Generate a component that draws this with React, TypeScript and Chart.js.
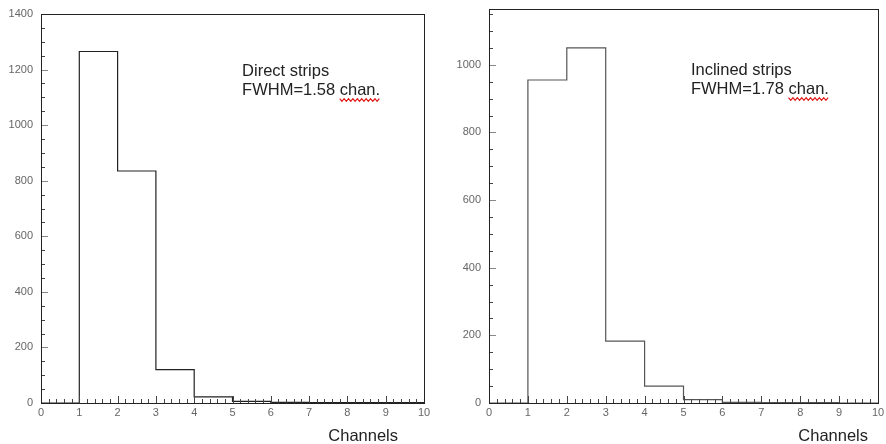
import React, { useEffect, useRef } from 'react';
import { Chart, registerables } from 'chart.js';

Chart.register(...registerables);

// ---- data ----
const binEdges = [0, 1, 2, 3, 4, 5, 6, 7, 8, 9, 10];
const directCounts = [0, 1265, 835, 120, 22, 6, 2, 1, 1, 1];
const inclinedCounts = [0, 955, 1050, 183, 50, 10, 2, 1, 1, 0];
const directYTicks = [0, 200, 400, 600, 800, 1000, 1200, 1400];
const inclinedYTicks = [0, 200, 400, 600, 800, 1000];
const xTickLabels = [0, 1, 2, 3, 4, 5, 6, 7, 8, 9, 10];
const directText = ['Direct strips', 'FWHM=1.58 chan.'];
const inclinedText = ['Inclined strips', 'FWHM=1.78 chan.'];
const axisTitle = 'Channels';
const directYMax = 1400;
const inclinedYMax = 1165;

const FONT = '"Liberation Sans", Arial, Helvetica, sans-serif';

const framePlugin = {
  id: 'frameTicks',
  afterDatasetsDraw(chart: any, _args: any, opts: any) {
    const { ctx, chartArea, scales } = chart;
    const { left, right, top, bottom } = chartArea;
    const xs = scales.x;
    const ys = scales.y;
    ctx.save();
    ctx.lineWidth = 1;
    ctx.strokeStyle = '#444';
    for (let i = 0; i <= 50; i++) {
      const v = i / 5;
      const px = Math.round(xs.getPixelForValue(v)) + 0.5;
      const len = i % 5 === 0 ? 7 : 4;
      ctx.beginPath();
      ctx.moveTo(px, bottom);
      ctx.lineTo(px, bottom - len);
      ctx.stroke();
    }
    for (let v = 0; v <= opts.yMax; v += 50) {
      const py = Math.round(ys.getPixelForValue(v)) + 0.5;
      const major = v % 200 === 0;
      ctx.strokeStyle = major ? '#888' : '#444';
      ctx.beginPath();
      ctx.moveTo(left, py);
      ctx.lineTo(left + (major ? 7 : 4), py);
      ctx.stroke();
    }
    ctx.strokeStyle = '#222';
    ctx.strokeRect(Math.round(left) + 0.5, Math.round(top) + 0.5, Math.round(right - left), Math.round(bottom - top));
    ctx.restore();
  },
  afterDraw(chart: any, _args: any, opts: any) {
    const { ctx, chartArea, scales } = chart;
    const xs = scales.x;
    ctx.save();
    ctx.font = `16.5px ${FONT}`;
    ctx.fillStyle = '#222';
    ctx.textAlign = 'left';
    ctx.textBaseline = 'middle';
    const tx = xs.getPixelForValue(opts.textX);
    const ty = chartArea.top + opts.textTop;
    const lines: string[] = opts.text;
    lines.forEach((t, i) => ctx.fillText(t, tx, ty + i * 19.5));
    const last = lines[lines.length - 1];
    const idx = last.indexOf('chan.');
    if (idx >= 0) {
      const sx = tx + ctx.measureText(last.slice(0, idx)).width;
      const sw = ctx.measureText('chan.').width;
      const sy = ty + (lines.length - 1) * 19.5 + 9.5;
      ctx.strokeStyle = '#e01818';
      ctx.lineWidth = 1.2;
      ctx.beginPath();
      let k = 0;
      for (let x = sx; x <= sx + sw + 0.1; x += 2.2, k++) {
        const y = sy + (k % 2 === 0 ? -1.3 : 1.3);
        if (k === 0) ctx.moveTo(x, y);
        else ctx.lineTo(x, y);
      }
      ctx.stroke();
    }
    ctx.font = `16.5px ${FONT}`;
    ctx.fillStyle = '#222';
    ctx.textAlign = 'right';
    ctx.textBaseline = 'middle';
    ctx.fillText(axisTitle, chartArea.right - opts.titleInset, chartArea.bottom + 33);
    ctx.restore();
  },
};

type PanelProps = {
  counts: number[];
  yMax: number;
  yTicks: number[];
  text: string[];
  width: number;
  yWidth: number;
  padTop: number;
  padRight: number;
  textX: number;
  textTop: number;
  titleInset: number;
  lineColor: string;
};

function Panel(p: PanelProps) {
  const ref = useRef<HTMLCanvasElement | null>(null);
  useEffect(() => {
    if (!ref.current) return;
    const points = binEdges.map((e, i) => ({ x: e, y: p.counts[Math.min(i, p.counts.length - 1)] }));
    const chart = new Chart(ref.current, {
      type: 'line',
      data: {
        datasets: [
          {
            data: points,
            stepped: 'before',
            borderColor: p.lineColor,
            borderWidth: 1.2,
            pointRadius: 0,
            fill: false,
          } as any,
        ],
      },
      options: {
        responsive: false,
        animation: false,
        events: [],
        layout: { padding: { top: p.padTop, right: p.padRight, left: 0, bottom: 0 } },
        plugins: {
          legend: { display: false },
          tooltip: { enabled: false },
          frameTicks: {
            yMax: p.yMax,
            text: p.text,
            textX: p.textX,
            textTop: p.textTop,
            titleInset: p.titleInset,
          },
        } as any,
        scales: {
          x: {
            type: 'linear',
            min: 0,
            max: 10,
            grid: { display: false, drawTicks: false },
            border: { display: false },
            afterBuildTicks: (s: any) => {
              s.ticks = xTickLabels.map((v) => ({ value: v }));
            },
            afterFit: (s: any) => {
              s.height = 41;
              s.paddingLeft = 0;
              s.paddingRight = 0;
            },
            ticks: {
              padding: 3,
              maxRotation: 0,
              autoSkip: false,
              color: '#666',
              font: { family: FONT, size: 11 },
              callback: (v: any) => String(v),
            },
          },
          y: {
            type: 'linear',
            min: 0,
            max: p.yMax,
            grid: { display: false, drawTicks: false },
            border: { display: false },
            afterBuildTicks: (s: any) => {
              s.ticks = p.yTicks.map((v) => ({ value: v }));
            },
            afterFit: (s: any) => {
              s.width = p.yWidth;
              s.paddingTop = 0;
              s.paddingBottom = 0;
            },
            ticks: {
              padding: 8,
              autoSkip: false,
              color: '#666',
              font: { family: FONT, size: 11 },
              callback: (v: any) => String(v),
            },
          },
        },
      },
      plugins: [framePlugin],
    });
    return () => chart.destroy();
  }, []);
  return <canvas ref={ref} width={p.width} height={444} style={{ display: 'block' }} />;
}

export default function App() {
  return (
    <div style={{ position: 'absolute', left: 0, top: 0, width: 886, height: 444, background: '#fff', display: 'flex' }}>
      <Panel
        counts={directCounts}
        yMax={directYMax}
        yTicks={directYTicks}
        text={directText}
        width={440}
        yWidth={41}
        padTop={14}
        padRight={16}
        textX={5.25}
        textTop={57}
        titleInset={26}
        lineColor="#222"
      />
      <Panel
        counts={inclinedCounts}
        yMax={inclinedYMax}
        yTicks={inclinedYTicks}
        text={inclinedText}
        width={446}
        yWidth={49}
        padTop={9}
        padRight={8}
        textX={5.19}
        textTop={61}
        titleInset={10}
        lineColor="#555"
      />
    </div>
  );
}
